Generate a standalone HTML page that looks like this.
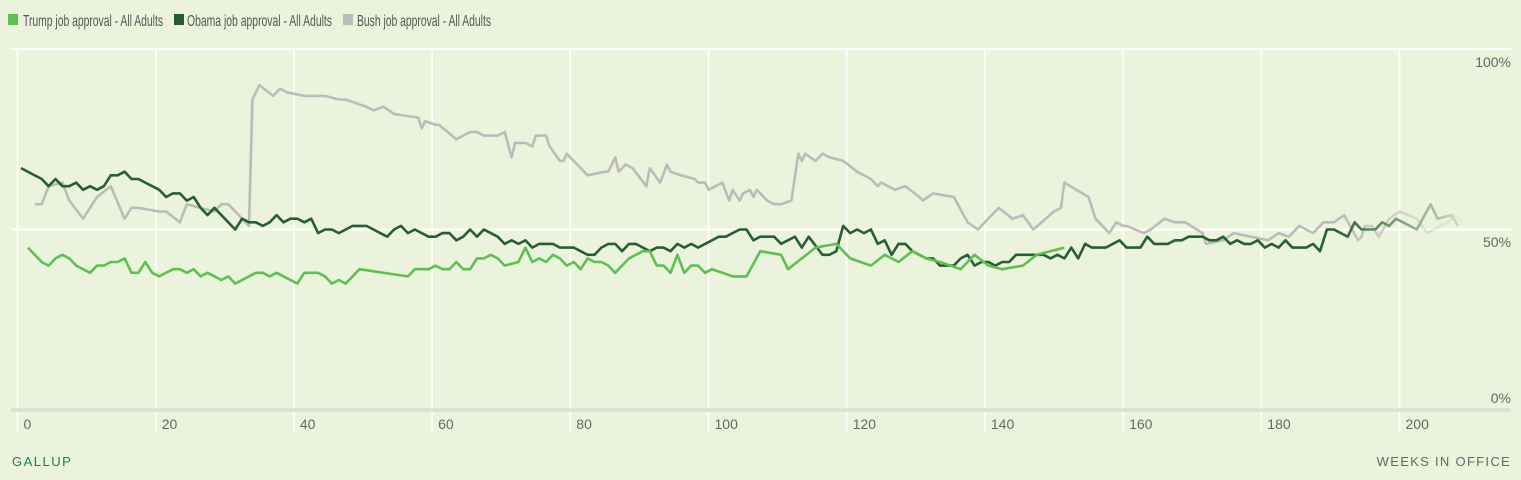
<!DOCTYPE html>
<html><head><meta charset="utf-8"><style>
html,body{margin:0;padding:0;background:#ecf3dd;}
svg{display:block;font-family:"Liberation Sans",sans-serif;}
</style></head><body>
<svg width="1521" height="480" viewBox="0 0 1521 480">
<defs>
<linearGradient id="fadeGrad" gradientUnits="userSpaceOnUse" x1="1335" y1="0" x2="1462" y2="0">
<stop offset="0" stop-color="#fff" stop-opacity="1"/><stop offset="1" stop-color="#fff" stop-opacity="0.15"/>
</linearGradient>
<mask id="fadeMask" maskUnits="userSpaceOnUse" x="0" y="0" width="1521" height="480">
<rect x="0" y="0" width="1335" height="480" fill="#fff"/>
<rect x="1335" y="0" width="186" height="480" fill="url(#fadeGrad)"/>
</mask>
</defs>
<rect width="1521" height="480" fill="#ecf3dd"/>
<g>
<g><rect x="8" y="14" width="10" height="11" fill="#5dc150"/><text x="23" y="26" font-size="16" fill="#555" textLength="140" lengthAdjust="spacingAndGlyphs">Trump job approval - All Adults</text></g>
<g><rect x="174" y="14" width="10" height="11" fill="#235c31"/><text x="187" y="26" font-size="16" fill="#555" textLength="145" lengthAdjust="spacingAndGlyphs">Obama job approval - All Adults</text></g>
<g><rect x="343" y="14" width="10" height="11" fill="#bbbbbb"/><text x="357" y="26" font-size="16" fill="#555" textLength="134" lengthAdjust="spacingAndGlyphs">Bush job approval - All Adults</text></g>
</g>
<g id="grid"></g>
<g id="axes"></g>
<g id="series" mask="url(#fadeMask)"></g>
<text x="12" y="466" font-size="13" fill="#1c7a5c" letter-spacing="1.5">GALLUP</text>
<text x="1511" y="466" font-size="13" fill="#666" text-anchor="end" letter-spacing="1.3">WEEKS IN OFFICE</text>
</svg>
<script>
const xTicks=[0,20,40,60,80,100,120,140,160,180,200];
const yTicks=[0,50,100];
const yTickLabels=["0%","50%","100%"];
const trumpWeeks=[1,3,4,5,6,7,8,10,11,12,13,14,15,16,17,18,19,20,22,23,24,25,26,27,29,30,31,34,35,36,37,40,41,43,44,45,46,47,49,56,57,59,60,61,62,63,64,65,66,67,68,69,70,72,73,74,75,76,77,78,79,80,81,82,83,84,85,86,88,90,91,92,93,94,95,96,97,98,99,100,103,105,107,110,111,115,118,120,123,125,127,129,131,133,136,138,140,142,145,147,151];
const trumpValues=[45,41,40,42,43,42,40,38,40,40,41,41,42,38,38,41,38,37,39,39,38,39,37,38,36,37,35,38,38,37,38,35,38,38,37,35,36,35,39,37,39,39,40,39,39,41,39,39,42,42,43,42,40,41,45,41,42,41,43,42,40,41,39,42,41,41,40,38,42,44,44,40,40,38,43,38,40,40,38,39,37,37,44,43,39,45,46,42,40,43,41,44,42,41,39,43,40,39,40,43,45];
const obamaWeeks=[0,3,4,5,6,7,8,9,10,11,12,13,14,15,16,17,18,19,20,21,22,23,24,25,26,27,28,31,32,33,34,35,36,37,38,39,40,41,42,43,44,45,46,48,50,53,54,55,56,57,59,60,61,62,63,64,65,66,67,69,70,71,72,73,74,75,77,78,80,82,83,84,85,86,87,88,89,91,92,93,94,95,96,97,98,101,102,104,105,106,107,109,110,112,113,114,116,117,118,119,120,121,122,123,124,125,126,127,128,129,130,131,132,133,135,136,137,138,139,140,141,142,143,144,148,149,150,151,152,153,154,155,157,159,160,162,163,164,166,167,168,169,171,172,173,174,175,176,177,178,179,180,181,182,183,184,186,187,188,189,190,192,193,194,196,197,198,199,202,204,205,207,208];
const obamaValues=[67,64,62,64,62,62,63,61,62,61,62,65,65,66,64,64,63,62,61,59,60,60,58,59,56,54,56,50,53,52,52,51,52,54,52,53,53,52,53,49,50,50,49,51,51,48,50,51,49,50,48,48,49,49,47,48,50,48,50,48,46,47,46,47,45,46,46,45,45,43,43,45,46,46,44,46,46,44,45,45,44,46,45,46,45,48,48,50,50,47,48,48,46,48,45,48,43,43,44,51,49,50,49,50,46,47,43,46,46,44,43,42,42,40,40,42,43,40,41,41,40,41,41,43,43,42,43,42,45,42,46,45,45,47,45,45,48,46,46,47,47,48,48,47,47,48,46,47,46,46,47,45,46,45,47,45,45,46,44,50,50,48,52,50,50,52,51,53,50,57,53,54,51];
const bushWeeks=[2,3,4,6,7,9,11,13,15,16,17,20,21,23,24,28,29,30,33,33.5,34.5,36.5,37.5,38.5,41,44,46,47,50,51,52.5,54,57.5,58,58.5,60,60.5,63,65,66,67,69,70,71,71.5,73,74,74.5,76,76.5,78,78.5,79,80.5,82,84.5,85,86,86.5,87.5,88.5,90.5,91,92.5,93.5,94,95.5,97.5,98,99,99.5,101.5,102.5,103,104,104.5,105.5,106,106.5,108,109,110,111.5,112.5,113,113.5,115,116,117,119,121,123,124,124.5,126.5,128,130,130.5,132,135,137,138.5,141.5,143.5,145,146.5,149.5,150.5,151,154.5,155.5,157.5,158.5,159.5,160,162.5,163.5,165.5,167,168.5,171,171.5,174,175.5,180.5,182,183.5,185,187,188.5,190,191.5,193.5,194,194.5,195.5,196.5,198,199.5,202,203.5,206.5,207.5,208.5];
const bushValues=[57,57,62,63,58,53,59,62,53,56,56,55,55,52,57,55,57,57,51,86,90,87,89,88,87,87,86,86,84,83,84,82,81,78,80,79,79,75,77,77,76,76,77,70,74,74,73,76,76,73,69,69,71,68,65,66,66,70,66,68,67,62,67,63,68,66,65,64,63,63,61,63,58,61,58,60,61,59,61,58,57,57,58,71,69,71,69,71,70,69,66,64,62,63,61,62,59,58,60,59,52,50,56,53,54,50,55,56,63,59,53,49,52,51,51,49,50,53,52,52,49,46,47,49,47,49,48,51,49,52,52,54,47,48,51,51,48,53,55,53,49,52,54,52];

const NS="http://www.w3.org/2000/svg";
function xScale(w){return 17.5+(w+0.5)*6.91;}
function gx(w){return 17.5+w*6.91;}
function yScale(v){return 410-v*3.61;}
const grid=document.getElementById('grid'),axes=document.getElementById('axes'),series=document.getElementById('series');
function mk(tag,attrs,parent){const e=document.createElementNS(NS,tag);for(const k in attrs)e.setAttribute(k,attrs[k]);parent.appendChild(e);return e;}
xTicks.forEach(function(t){
  const l=mk('line',{x1:gx(t),x2:gx(t),y1:49,y2:433,stroke:'#fff','stroke-width':1.5},grid);
  
  
  const tx=mk('text',{x:gx(t)+6,y:429,'font-size':14,fill:'#666'},axes);
  tx.textContent=String(t);
  
  
});
yTicks.forEach(function(t,i){
  const l=mk('line',{x1:11,x2:1511,y1:yScale(t),y2:yScale(t),stroke:t===0?'#dcdcdc':'#fff','stroke-width':t===0?3.5:2},grid);
  
  
  const ty=t===100?67:(t===50?247:403);
  const tx=mk('text',{x:1511,y:ty,'font-size':14,fill:'#666','text-anchor':'end'},axes);
  tx.textContent=yTickLabels[i];
  
  
});
function drawLine(weeks,vals,color,name){
  let d='';
  for(let i=0;i<weeks.length;i++){d+=(i?'L':'M')+xScale(weeks[i]).toFixed(1)+','+yScale(vals[i]).toFixed(1);}
  const p=mk('path',{d:d,fill:'none',stroke:color,'stroke-width':2.6,'stroke-linejoin':'round'},series);
  
  
}
drawLine(bushWeeks,bushValues,'#bbbbbb','bush-line');
drawLine(obamaWeeks,obamaValues,'#265f33','obama-line');
drawLine(trumpWeeks,trumpValues,'#5dc150','trump-line');
</script>
</body></html>
